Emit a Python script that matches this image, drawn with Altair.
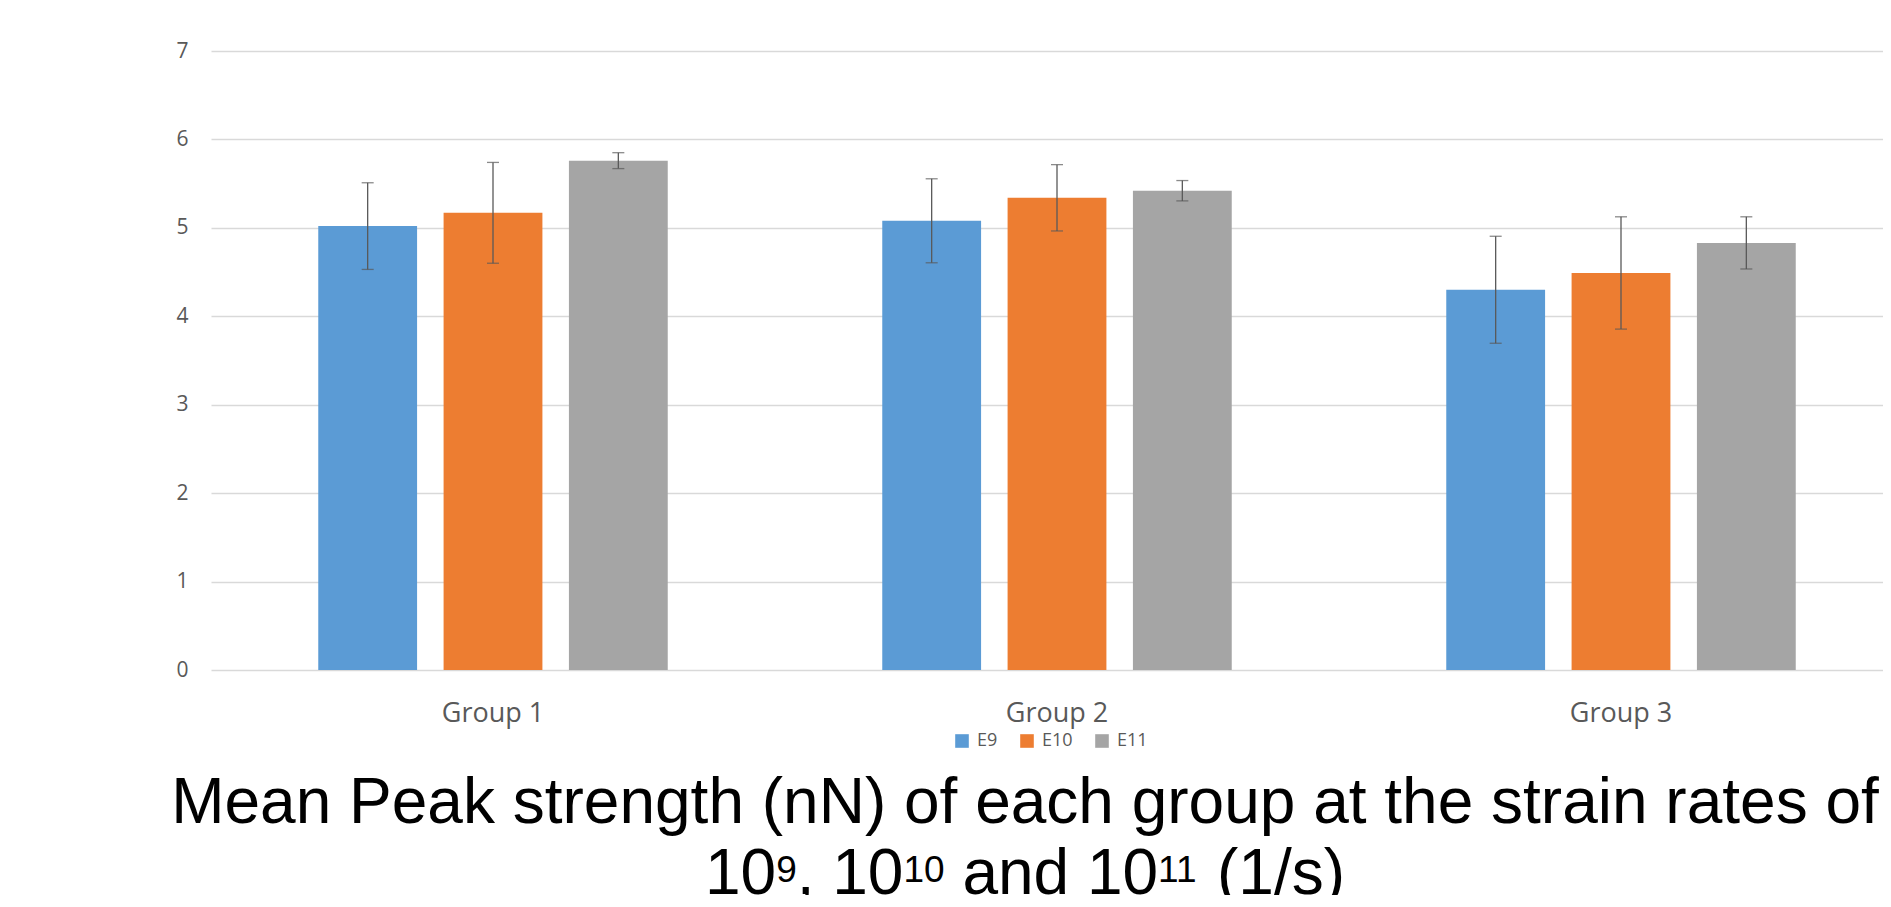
import altair as alt
import pandas as pd

groups = ["Group 1", "Group 2", "Group 3"]
series = ["E9", "E10", "E11"]
means = {
    "Group 1": [5.02, 5.17, 5.76],
    "Group 2": [5.08, 5.34, 5.42],
    "Group 3": [4.30, 4.49, 4.83],
}
errors = {
    "Group 1": [0.49, 0.57, 0.09],
    "Group 2": [0.475, 0.375, 0.115],
    "Group 3": [0.605, 0.635, 0.295],
}
colors = ["#5B9BD5", "#ED7D31", "#A5A5A5"]
title_line1 = "Mean Peak strength (nN) of each group at the strain rates of"
# second title line as (text, is_superscript) pieces
title_line2 = [("10", False), ("9", True), (", 10", False), ("10", True),
               (" and 10", False), ("11", True), (" (1/s)", False)]

rows = []
for g in groups:
    for s, m, e in zip(series, means[g], errors[g]):
        rows.append({"group": g, "series": s, "value": m, "lo": m - e, "hi": m + e})
df = pd.DataFrame(rows)

W = 1692      # plot width (runs slightly past the page edge, as in the reference)
H = 619
F_MAIN = 64
F_SUP = 37

# Arial / Liberation Sans advance widths (em) for the title characters
adv = {"0": .556, "1": .556, "9": .556, ",": .278, " ": .278, "a": .556,
       "n": .556, "d": .556, "(": .333, ")": .333, "/": .278, "s": .5}
widths = []
for txt, sup in title_line2:
    f = F_SUP if sup else F_MAIN
    widths.append(sum(adv[c] for c in txt) * f)
total = sum(widths)
cx = 814  # title centre relative to plot origin
x = cx - total / 2
pieces = []
for (txt, sup), w in zip(title_line2, widths):
    f = F_SUP if sup else F_MAIN
    lead = len(txt) - len(txt.lstrip(" "))
    pieces.append({"t": txt.strip(" "), "px": x + lead * adv[" "] * f, "sup": sup})
    x += w
pdf = pd.DataFrame(pieces)

x_enc = alt.X("group:N", sort=groups, title=None,
              scale=alt.Scale(paddingInner=0, paddingOuter=0),
              axis=alt.Axis(domain=False, ticks=False, labelAngle=0,
                            labelFont="Open Sans", labelFontSize=27,
                            labelColor="#595959", labelPadding=30))
xo_enc = alt.XOffset("series:N", sort=series,
                     scale=alt.Scale(paddingInner=0.2115, paddingOuter=0.8558))

base = alt.Chart(df)

bars = base.mark_bar().encode(
    x=x_enc,
    xOffset=xo_enc,
    y=alt.Y("value:Q", title=None,
            scale=alt.Scale(domain=[0, 7], nice=False),
            axis=alt.Axis(values=list(range(0, 8)), format="d", domain=False, ticks=False,
                          grid=True, gridColor="#D9D9D9", gridWidth=1.3,
                          labelFont="Open Sans", labelFontSize=21,
                          labelColor="#595959", labelPadding=23)),
    color=alt.Color("series:N", sort=series,
                    scale=alt.Scale(domain=series, range=colors),
                    legend=alt.Legend(title=None, orient="none", direction="horizontal",
                                      legendX=742, legendY=681, padding=0,
                                      symbolType="square", symbolSize=185,
                                      symbolStrokeWidth=0,
                                      labelFont="Open Sans", labelFontSize=18,
                                      labelColor="#595959", labelOffset=6,
                                      columnPadding=20)),
)

rules = base.mark_rule(color="#595959", strokeWidth=1.3).encode(
    x=alt.X("group:N", sort=groups),
    xOffset=alt.XOffset("series:N", sort=series),
    y=alt.Y("lo:Q"),
    y2="hi:Q",
)

caps_lo = base.mark_tick(color="#595959", thickness=1.3, size=12).encode(
    x=alt.X("group:N", sort=groups),
    xOffset=alt.XOffset("series:N", sort=series),
    y=alt.Y("lo:Q"),
)
caps_hi = base.mark_tick(color="#595959", thickness=1.3, size=12).encode(
    x=alt.X("group:N", sort=groups),
    xOffset=alt.XOffset("series:N", sort=series),
    y=alt.Y("hi:Q"),
)

t1 = alt.Chart(pd.DataFrame({"t": [title_line1]})).mark_text(
    font="Liberation Sans", fontSize=F_MAIN, color="#000000", align="center",
    baseline="alphabetic").encode(
    x=alt.value(cx), y=alt.value(772), text="t:N")

Y2 = 843
t2_main = alt.Chart(pdf).transform_filter("!datum.sup").mark_text(
    font="Liberation Sans", fontSize=F_MAIN, color="#000000", align="left",
    baseline="alphabetic").encode(
    x=alt.X("px:Q", scale=None), y=alt.value(Y2), text="t:N")
t2_sup = alt.Chart(pdf).transform_filter("datum.sup").mark_text(
    font="Liberation Sans", fontSize=F_SUP, color="#000000", align="left",
    baseline="alphabetic").encode(
    x=alt.X("px:Q", scale=None), y=alt.value(Y2 - 12), text="t:N")

# svg must stay within the page (8px body margin on every side)
chart = alt.layer(bars, rules, caps_lo, caps_hi, t1, t2_main, t2_sup).properties(
    width=W, height=H,
    autosize=alt.AutoSizeParams(type="none"),
    padding={"left": 203, "top": 43, "right": -20, "bottom": 225},
    background="white",
).configure_view(stroke=None)

chart.save("out.html", embed_options={"renderer": "svg", "actions": False})
